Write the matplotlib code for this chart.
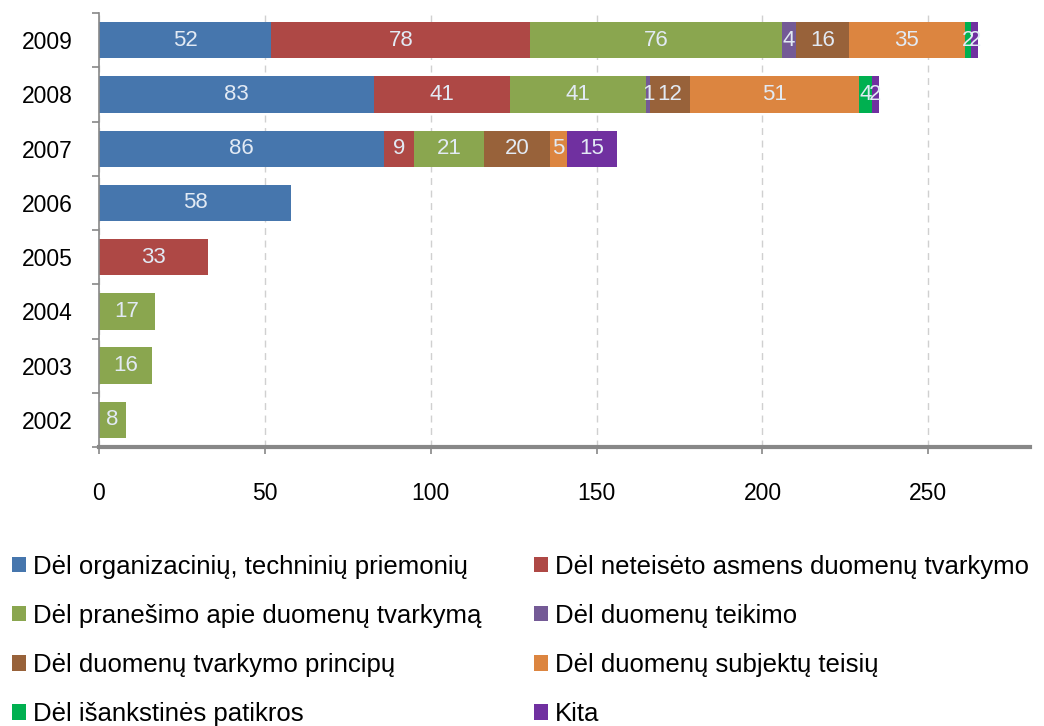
import matplotlib
matplotlib.use("Agg")
import matplotlib.pyplot as plt
import numpy as np

plt.rcParams['font.family'] = ['Liberation Sans', 'DejaVu Sans']

years = ["2002", "2003", "2004", "2005", "2006", "2007", "2008", "2009"]
series_names = [
    "Dėl organizacinių, techninių priemonių",
    "Dėl neteisėto asmens duomenų tvarkymo",
    "Dėl pranešimo apie duomenų tvarkymą",
    "Dėl duomenų teikimo",
    "Dėl duomenų tvarkymo principų",
    "Dėl duomenų subjektų teisių",
    "Dėl išankstinės patikros",
    "Kita",
]
organizaciniu = [0, 0, 0, 0, 58, 86, 83, 52]
neteiseto = [0, 0, 0, 33, 0, 9, 41, 78]
pranesimo = [8, 16, 17, 0, 0, 21, 41, 76]
teikimo = [0, 0, 0, 0, 0, 0, 1, 4]
principu = [0, 0, 0, 0, 0, 20, 12, 16]
subjektu = [0, 0, 0, 0, 0, 5, 51, 35]
isankstines = [0, 0, 0, 0, 0, 0, 4, 2]
kita = [0, 0, 0, 0, 0, 15, 2, 2]
series_values = [organizaciniu, neteiseto, pranesimo, teikimo, principu, subjektu, isankstines, kita]
colors = ["#4676AD", "#AE4845", "#8AA64F", "#745A96", "#98623A", "#DC8540", "#00B050", "#7030A0"]

fig = plt.figure(figsize=(10.44, 7.26), dpi=100)
ax = fig.add_axes([0.0948, 0.3843, 0.892, 0.5977])

y = np.arange(len(years))
left = np.zeros(len(years))
handles = []
for name, vals, col in zip(series_names, series_values, colors):
    vals = np.array(vals, dtype=float)
    bars = ax.barh(y, vals, left=left, height=0.67, color=col, label=name, edgecolor='none')
    handles.append(bars)
    labels = [f"{int(v)}" if v > 0 else "" for v in vals]
    ax.bar_label(bars, labels=labels, label_type='center', color='#E2EAF4', fontsize=16)
    left += vals

ax.set_xlim(0, 280.7)
ax.set_ylim(-0.5, len(years) - 0.5)
ax.set_yticks(y)
ax.set_yticklabels(years, fontsize=16.5)
ax.set_yticks(np.arange(-0.5, len(years), 1), minor=True)
ax.tick_params(axis='y', which='major', length=0, pad=19)
ax.tick_params(axis='y', which='minor', length=5, color='#888888', width=1.2)
ax.set_xticks([0, 50, 100, 150, 200, 250])
ax.tick_params(axis='x', which='major', length=5, color='#888888', width=1.2, labelsize=16.5, pad=20)

ax.grid(axis='x', linestyle=(0, (5, 4)), color='#D0D0D0', linewidth=1.0)
ax.set_axisbelow(True)
for s in ['top', 'right']:
    ax.spines[s].set_visible(False)
ax.spines['left'].set_color('#888888')
ax.spines['left'].set_linewidth(1.2)
ax.spines['bottom'].set_color('#888888')
ax.spines['bottom'].set_linewidth(3)

order = [0, 2, 4, 6, 1, 3, 5, 7]
leg = fig.legend([handles[i] for i in order], [series_names[i] for i in order],
                 ncol=2, loc='upper left', bbox_to_anchor=(-0.0105, 0.268),
                 frameon=False, fontsize=18.5, handlelength=0.55, handleheight=0.55,
                 handletextpad=0.25, labelspacing=0.98, columnspacing=2.06)

fig.savefig("out.png", dpi=100)
